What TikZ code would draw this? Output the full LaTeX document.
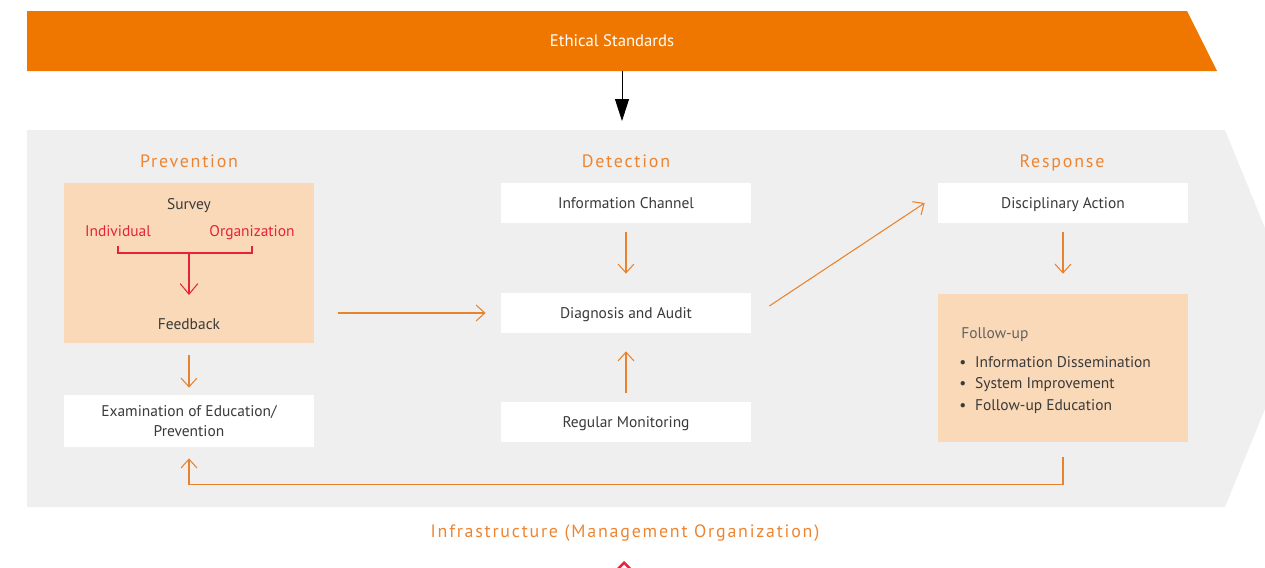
\documentclass[tikz,border=0pt]{standalone}
\usepackage{fontspec}
\setmainfont{PT Sans}
\newfontfamily\spacedfont[LetterSpace=10]{PT Sans}
\usetikzlibrary{arrows.meta}

\definecolor{bannerorange}{HTML}{EF7700}
\definecolor{headorange}{HTML}{EE8430}
\definecolor{flowline}{HTML}{E9822E}
\definecolor{peach}{HTML}{FAD9B8}
\definecolor{panelgrey}{HTML}{EFEFEF}
\definecolor{surveyred}{HTML}{E5233B}
\definecolor{textgrey}{HTML}{3A3A3A}

\begin{document}
\begin{tikzpicture}[x=0.02cm,y=-0.02cm,
    box/.style={rectangle, fill=white, minimum width=5cm, minimum height=0.8cm, inner sep=0pt, text=textgrey, font=\fontsize{8.8}{11}\selectfont, align=center, text height=1.6ex, text depth=0.4ex},
    peachbox/.style={box, fill=peach},
    heading/.style={text=headorange, font=\spacedfont\fontsize{10.2}{12}\selectfont, text height=1.6ex, text depth=0.4ex},
    label/.style={text=textgrey, font=\fontsize{8.8}{10.5}\selectfont, inner sep=0pt, text height=1.6ex, text depth=0.4ex},
    redlabel/.style={label, text=surveyred},
    flow/.style={draw=flowline, line width=0.6pt, -{Straight Barb[length=5pt,width=9pt,line width=0.6pt]}},
    redline/.style={draw=surveyred, line width=0.6pt},
    redarrow/.style={redline, -{Straight Barb[length=6pt,width=10pt,line width=0.6pt]}}]
  \useasboundingbox (0,0) rectangle (1265,568);

  % Background shapes
  \fill[bannerorange] (27,11) -- (1187,11) -- (1217,71) -- (27,71) -- cycle;
  \fill[panelgrey] (27,130) -- (1225,130) -- (1265,228) -- (1265,409) -- (1225,507) -- (27,507) -- cycle;
  \fill[surveyred] (617,568) -- (624,561) -- (631,568) -- (627.5,568) -- (624,564.5) -- (620.5,568) -- cycle;

  % Nodes
  \node (ethics) at (612,41) [text=white, font=\fontsize{9.5}{11}\selectfont, text height=1.6ex, text depth=0.4ex] {Ethical Standards};
  \coordinate (ethicsbase) at (622,71);
  \coordinate (paneltop) at (622,130);

  \node (prevhead) at (189,162) [heading] {Prevention};
  \node (dethead) at (626,162) [heading] {Detection};
  \node (resphead) at (1062,162) [heading] {Response};

  \node (surveybox) at (189,263) [peachbox, minimum height=3.2cm] {};
  \node (survey) at (189,204) [label] {Survey};
  \node (indiv) at (118,231) [redlabel] {Individual};
  \node (organ) at (252,231) [redlabel] {Organization};
  \node (feedback) at (189,324) [label] {Feedback};
  \node (exambox) at (189,421) [box, minimum height=1.04cm, text height=, text depth=] {Examination of Education/\\Prevention};

  \node (infobox) at (626,203) [box] {Information Channel};
  \node (diagbox) at (626,313) [box] {Diagnosis and Audit};
  \node (monitorbox) at (626,422) [box] {Regular Monitoring};

  \node (discbox) at (1063,203) [box] {Disciplinary Action};
  \node (followbox) at (1063,368) [peachbox, minimum height=2.96cm] {};
  \node (followhead) at (961,333) [label, anchor=west, text=textgrey!80] {Follow-up};
  \node (followitems) at (959,385) [anchor=west, align=left, inner sep=0pt, text=textgrey, font=\fontsize{8.8}{12}\selectfont] {%
    \textbullet\hspace{5pt}Information Dissemination\\
    \textbullet\hspace{5pt}System Improvement\\
    \textbullet\hspace{5pt}Follow-up Education};

  \node (infra) at (625,532) [heading] {Infrastructure (Management Organization)};

  % Edges
  \draw[line width=0.5pt, -{Triangle[length=0.44cm,width=0.28cm]}, shorten >=9*0.02cm] (ethicsbase) -- (paneltop);

  \draw[redline] (indiv) ++(0,15) -- ++(0,7) coordinate (bracketleft) -- (bracketleft -| organ) -- ++(0,-7);
  \draw[redarrow] (bracketleft -| survey) -- ++(0,42);

  \draw[flow, shorten <=0.24cm, shorten >=0.14cm] (surveybox) -- (exambox);
  \draw[flow, shorten <=0.18cm, shorten >=0.38cm] (infobox) -- (diagbox);
  \draw[flow, shorten <=0.18cm, shorten >=0.36cm] (monitorbox) -- (diagbox);
  \draw[flow, shorten <=0.18cm, shorten >=0.40cm] (discbox) -- (followbox);
  \draw[flow, shorten <=0.48cm, shorten >=0.30cm] (surveybox.east |- diagbox) -- (diagbox);
  \draw[flow] ([shift={(18,-7)}]diagbox.east) -- ([shift={(-13,0)}]discbox.west);
  \draw[flow] ([yshift=-0.30cm]followbox.south) -- ++(0,27) -| ([yshift=-0.22cm]exambox.south);
\end{tikzpicture}
\end{document}
